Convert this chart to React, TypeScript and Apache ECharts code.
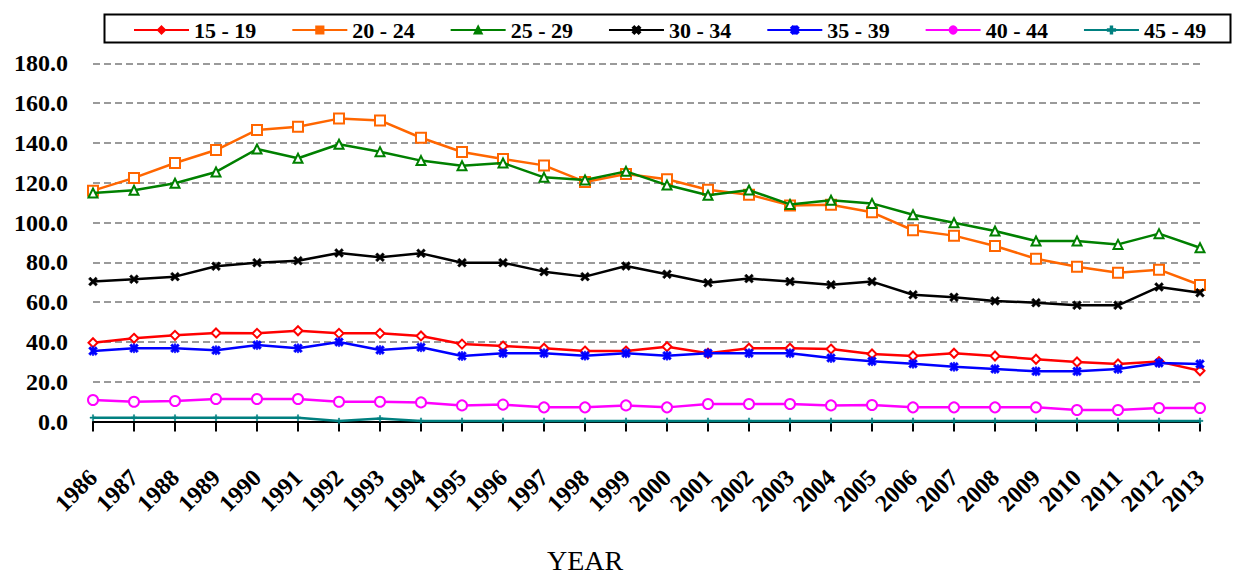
import React, { useEffect, useRef } from "react";
import * as echarts from "echarts";

const years = [
  "1986", "1987", "1988", "1989", "1990", "1991", "1992", "1993", "1994", "1995",
  "1996", "1997", "1998", "1999", "2000", "2001", "2002", "2003", "2004", "2005",
  "2006", "2007", "2008", "2009", "2010", "2011", "2012", "2013",
];

const s15_19 = [39.6, 41.8, 43.3, 44.5, 44.3, 45.6, 44.3, 44.3, 43.0, 38.9, 37.9, 36.8, 35.4, 35.4, 37.6, 34.3, 36.8, 36.8, 36.4, 33.9, 32.9, 34.3, 32.9, 31.3, 29.9, 28.9, 30.1, 25.5];
const s20_24 = [116.0, 122.4, 129.9, 136.4, 146.5, 148.1, 152.2, 151.3, 142.6, 135.4, 131.9, 128.7, 120.4, 124.4, 121.7, 116.5, 114.0, 108.6, 108.9, 105.1, 96.1, 93.4, 88.2, 81.8, 77.8, 74.8, 76.3, 68.6];
const s25_29 = [114.8, 116.2, 119.7, 125.4, 136.9, 132.3, 139.3, 135.6, 131.1, 128.5, 129.9, 122.7, 121.4, 125.7, 118.8, 113.7, 116.3, 109.1, 111.2, 109.6, 103.9, 99.9, 95.7, 90.7, 90.7, 89.0, 94.4, 87.3];
const s30_34 = [70.3, 71.5, 72.8, 78.0, 79.8, 80.8, 84.7, 82.5, 84.5, 79.8, 79.8, 75.3, 72.8, 78.1, 74.0, 69.7, 71.8, 70.3, 68.7, 70.3, 63.7, 62.4, 60.6, 59.7, 58.4, 58.4, 67.6, 64.7];
const s35_39 = [35.4, 36.8, 36.8, 35.8, 38.4, 36.8, 39.9, 35.9, 37.3, 32.9, 34.3, 34.3, 33.1, 34.3, 33.1, 34.3, 34.3, 34.3, 31.9, 30.3, 29.0, 27.5, 26.4, 25.2, 25.2, 26.4, 29.4, 28.9];
const s40_44 = [10.8, 9.9, 10.3, 11.3, 11.3, 11.3, 9.9, 9.9, 9.6, 8.1, 8.5, 7.1, 7.1, 8.1, 7.1, 8.8, 8.8, 8.8, 8.1, 8.3, 7.1, 7.1, 7.1, 7.1, 5.8, 5.8, 6.8, 6.8];
const s45_49 = [1.9, 1.9, 1.9, 1.9, 1.9, 1.9, 0.2, 1.5, 0.3, 0.3, 0.3, 0.3, 0.3, 0.3, 0.3, 0.3, 0.3, 0.3, 0.3, 0.3, 0.3, 0.3, 0.3, 0.3, 0.3, 0.3, 0.3, 0.3];

const seriesNames = ["15 - 19", "20 - 24", "25 - 29", "30 - 34", "35 - 39", "40 - 44", "45 - 49"];
const seriesValues = [s15_19, s20_24, s25_29, s30_34, s35_39, s40_44, s45_49];
const seriesColors = ["#FF0000", "#FF6600", "#008000", "#000000", "#0000FF", "#FF00FF", "#008080"];

const xPath = "path://M2,0 L5,3 L8,0 L10,2 L7,5 L10,8 L8,10 L5,7 L2,10 L0,8 L3,5 L0,2 Z";
const starPath = "path://M2,0 L5,3 L8,0 L10,2 L7,5 L10,8 L8,10 L5,7 L2,10 L0,8 L3,5 L0,2 Z M4.1,0 L5.9,0 L5.9,10 L4.1,10 Z";
const plusPath = "path://M4,0 L6,0 L6,4 L10,4 L10,6 L6,6 L6,10 L4,10 L4,6 L0,6 L0,4 L4,4 Z";

const symbols = ["diamond", "rect", "triangle", xPath, starPath, "circle", plusPath];
const symbolSizes = [9, 10, 9, 9, 9, 10, 6];
const hollow = [true, true, true, false, false, true, false];

const FONT = "Liberation Serif";

export default function App() {
  const ref = useRef<HTMLDivElement>(null);

  useEffect(() => {
    if (!ref.current) return;
    const chart = echarts.init(ref.current, undefined, { renderer: "svg" });

    const series = seriesNames.map((name, i) => ({
      name,
      type: "line",
      data: seriesValues[i],
      symbol: symbols[i],
      symbolSize: symbolSizes[i],
      showAllSymbol: true,
      lineStyle: { color: seriesColors[i], width: 2.5 },
      itemStyle: hollow[i]
        ? { color: "#ffffff", borderColor: seriesColors[i], borderWidth: 2 }
        : { color: seriesColors[i], borderColor: seriesColors[i], borderWidth: 0.5 },
      emphasis: { disabled: true },
      z: 3 + i,
    }));

    chart.setOption({
      animation: false,
      backgroundColor: "#ffffff",
      grid: { left: 93, right: 33, top: 63.3, bottom: 152.5, containLabel: false },
      legend: {
        left: 133,
        top: 19,
        itemWidth: 55,
        itemHeight: 9,
        itemGap: 35,
        padding: 0,
        data: seriesNames.map((n, i) => ({
          name: n,
          itemStyle: { color: seriesColors[i], borderColor: seriesColors[i] },
        })),
        textStyle: { fontFamily: FONT, fontWeight: "bold", fontSize: 22, color: "#000" },
      },
      xAxis: {
        type: "category",
        data: years,
        boundaryGap: false,
        axisLine: { show: true, lineStyle: { color: "#000", width: 2 } },
        axisTick: { show: true, length: 10, lineStyle: { color: "#000", width: 2 }, interval: 0 },
        axisLabel: {
          interval: 0,
          rotate: 45,
          margin: 52,
          fontFamily: FONT,
          fontWeight: "bold",
          fontSize: 24,
          color: "#000",
        },
        splitLine: { show: false },
      },
      yAxis: {
        type: "value",
        min: 0,
        max: 180,
        interval: 20,
        axisLine: { show: false },
        axisTick: { show: false },
        axisLabel: {
          margin: 25,
          fontFamily: FONT,
          fontWeight: "bold",
          fontSize: 24,
          color: "#000",
          formatter: (v: number) => v.toFixed(1),
        },
        splitLine: {
          show: true,
          lineStyle: { color: "#9a9a9a", width: 2, type: [7, 4] },
        },
      },
      graphic: [
        {
          type: "rect",
          left: 102,
          top: 12,
          shape: { width: 1126, height: 28 },
          style: { fill: "none", stroke: "#000", lineWidth: 2 },
          z: 1,
          silent: true,
        },
        {
          type: "text",
          left: 547,
          top: 546,
          style: {
            text: "YEAR",
            fontFamily: FONT,
            fontSize: 28,
            fontWeight: "normal",
            fill: "#000",
          },
          silent: true,
        },
      ],
      series,
    });

    return () => chart.dispose();
  }, []);

  return (
    <div
      ref={ref}
      style={{ position: "fixed", left: 0, top: 0, width: 1233, height: 574, background: "#fff" }}
    />
  );
}
